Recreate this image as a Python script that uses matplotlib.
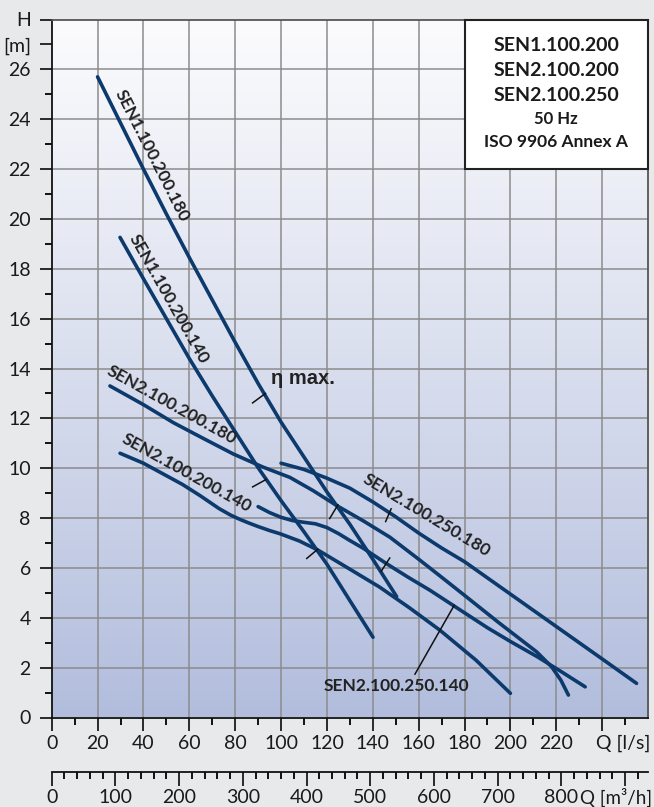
import numpy as np
import matplotlib
matplotlib.use('Agg')
import matplotlib.pyplot as plt
from matplotlib.ticker import FixedLocator
from matplotlib.patches import Rectangle

# ---------------- data ----------------
sen1_180_q = [20, 30, 40, 50, 60, 70, 80, 90, 100, 110, 120, 130, 140, 150.4]
sen1_180_h = [25.7, 23.85, 22.0, 20.2, 18.45, 16.75, 15.05, 13.4, 11.85, 10.45, 9.05, 7.75, 6.35, 4.85]

sen1_140_q = [29.8, 40, 50, 60, 70, 80, 90, 100, 110, 120, 130, 140.1]
sen1_140_h = [19.26, 17.6, 16.0, 14.4, 12.9, 11.46, 10.02, 8.7, 7.45, 6.15, 4.69, 3.22]

sen2_200_180_q = [25.4, 40, 53, 66, 79.2, 92, 103.9, 114, 124.3, 136, 147.5, 160, 169, 180, 195, 211.5, 218, 222, 225.3]
sen2_200_180_h = [13.3, 12.55, 11.83, 11.2, 10.57, 10.05, 9.63, 9.1, 8.5, 7.88, 7.23, 6.35, 5.7, 4.9, 3.8, 2.63, 2.03, 1.5, 0.9]

sen2_200_140_q = [29.8, 40, 50, 57, 64.7, 73, 78, 82, 86, 90, 95, 99.6, 108, 116, 130, 143, 156, 169.3, 185, 200]
sen2_200_140_h = [10.6, 10.2, 9.7, 9.35, 8.9, 8.38, 8.12, 7.95, 7.8, 7.66, 7.5, 7.37, 7.08, 6.72, 5.95, 5.23, 4.4, 3.5, 2.3, 0.97]

sen2_250_180_q = [100, 110, 120, 130, 140, 150, 160, 170, 180, 200, 220, 240, 255]
sen2_250_180_h = [10.2, 9.95, 9.6, 9.2, 8.65, 8.05, 7.4, 6.8, 6.25, 4.95, 3.65, 2.35, 1.37]

sen2_250_140_q = [90, 95, 100, 105, 110, 115, 120, 125, 130, 136, 146, 155, 165, 175, 190, 200, 211.5, 222, 232.6]
sen2_250_140_h = [8.46, 8.22, 8.03, 7.9, 7.83, 7.77, 7.62, 7.38, 7.1, 6.78, 6.17, 5.65, 5.1, 4.5, 3.6, 3.05, 2.45, 1.85, 1.23]

# eta-max marks (short strokes across curves): (q1, h1, q2, h2)
eta_marks = [(87.6, 12.62, 93.2, 13.0),
             (87.6, 9.25, 93.5, 9.55),
             (111.2, 6.38, 116.0, 6.75),
             (121.2, 7.98, 124.8, 8.53),
             (145.6, 7.86, 148.0, 8.37),
             (143.7, 5.87, 147.4, 6.40)]

x_ticks = list(range(0, 241, 20))
x_ticklabels = [str(v) for v in range(0, 221, 20)] + ['']
y_ticks = list(range(0, 27, 2)) + [27, 28]
y_ticklabels = [str(v) for v in range(0, 27, 2)] + ['[m]', 'H']
m3h_ticks = list(range(0, 901, 100))
m3h_ticklabels = [str(v) for v in range(0, 801, 100)] + ['']

box_lines = ['SEN1.100.200', 'SEN2.100.200', 'SEN2.100.250', '50 Hz', 'ISO 9906 Annex A']

# ---------------- figure ----------------
W, H = 654, 807
plt.rcParams['font.family'] = ['Lato', 'DejaVu Sans']
fig = plt.figure(figsize=(W / 100, H / 100), dpi=100)
fig.patch.set_facecolor('#e8e9ea')

px0, px1 = 51.7, 648.0
py0, py1 = 717.5, 19.5
ax = fig.add_axes([px0 / W, 1 - py0 / H, (px1 - px0) / W, (py0 - py1) / H])

# gradient background
top = np.array([251, 251, 253]) / 255
bot = np.array([178, 189, 221]) / 255
t = np.linspace(0, 1, 256)[:, None] ** 1.1
grad = top * (1 - t) + bot * t
ax.imshow(grad[:, None, :], extent=[0, 260, 0, 28], aspect='auto', origin='upper', zorder=0)
ax.set_xlim(0, 260)
ax.set_ylim(0, 28)

# grid
for xv in range(20, 260, 20):
    ax.axvline(xv, color='#8c8c8c', lw=1.1, zorder=1)
for yv in range(2, 28, 2):
    ax.axhline(yv, color='#8c8c8c', lw=1.1, zorder=1)

# ticks
ax.set_xticks(x_ticks)
ax.set_xticklabels(x_ticklabels)
ax.xaxis.set_minor_locator(FixedLocator(list(range(10, 260, 20))))
ax.set_yticks(y_ticks)
ax.set_yticklabels(y_ticklabels)
ax.yaxis.set_minor_locator(FixedLocator(list(range(1, 26, 2))))
ax.tick_params(which='major', length=9, width=1.3, direction='out', labelsize=14, colors='#1a1a1a')
ax.tick_params(which='minor', length=5, width=1.3, direction='out')
ax.tick_params(axis='x', which='major', pad=3.5)
ax.tick_params(axis='y', which='major', pad=6)

for s in ['left', 'bottom']:
    ax.spines[s].set_color('#111111')
    ax.spines[s].set_linewidth(1.3)
for s in ['top', 'right']:
    ax.spines[s].set_color('#555555')
    ax.spines[s].set_linewidth(1.3)

# curves
col = '#0c3a6c'
for q, h in [(sen1_180_q, sen1_180_h), (sen1_140_q, sen1_140_h),
             (sen2_200_180_q, sen2_200_180_h), (sen2_200_140_q, sen2_200_140_h),
             (sen2_250_180_q, sen2_250_180_h), (sen2_250_140_q, sen2_250_140_h)]:
    ax.plot(q, h, color=col, lw=2.6, solid_capstyle='round', solid_joinstyle='round', zorder=4)

for q1, h1, q2, h2 in eta_marks:
    ax.plot([q1, q2], [h1, h2], color='#111111', lw=1.1, zorder=5)

# leader line
ax.plot([158.4, 175.5], [1.74, 4.5], color='#111111', lw=1.1, zorder=5)

# curve labels
lab_kw = dict(fontsize=12.5, fontweight='bold', color='#222222', ha='center', va='center',
              rotation_mode='anchor', zorder=6)
ax.text(43.6, 22.55, 'SEN1.100.200.180', rotation=-63.1, **lab_kw)
ax.text(51.0, 16.8, 'SEN1.100.200.140', rotation=-60.5, **lab_kw)
ax.text(52.3, 12.55, 'SEN2.100.200.180', rotation=-29, **lab_kw)
ax.text(59.0, 9.8, 'SEN2.100.200.140', rotation=-29, **lab_kw)
ax.text(163.5, 8.1, 'SEN2.100.250.180', rotation=-31, **lab_kw)
ax.text(150.4, 1.27, 'SEN2.100.250.140', rotation=0, **lab_kw)

ax.text(109.6, 13.6, 'η max.', fontsize=14.5, fontweight='bold', family=['Liberation Sans', 'DejaVu Sans'],
        color='#222222', ha='center', va='center', zorder=6)

# title box
ax.add_patch(Rectangle((180, 22), 80, 6, facecolor='white', edgecolor='#222222', lw=1.5, zorder=7, clip_on=False))
box_y = [26.97, 25.97, 24.97, 24.0, 23.1]
box_fs = [14, 14, 14, 12, 12.5]
for txt, yy, fs in zip(box_lines, box_y, box_fs):
    ax.text(220, yy, txt, fontsize=fs, fontweight='bold', color='#1a1a1a', ha='center', va='center', zorder=8)

# Q [l/s] label
fig.text(650 / W, 1 - 743.3 / H, 'Q [l/s]', fontsize=14, color='#1a1a1a', ha='right', va='center')

# secondary m3/h axis
ax2 = fig.add_axes([px0 / W, 1 - 771.7 / H, (px1 - px0) / W, 0.0001])
ax2.set_xlim(0, 260 * 3.6)
ax2.set_ylim(0, 1)
ax2.patch.set_alpha(0)
for s in ['left', 'right', 'top']:
    ax2.spines[s].set_visible(False)
ax2.spines['bottom'].set_color('#111111')
ax2.spines['bottom'].set_linewidth(1.3)
ax2.set_yticks([])
ax2.set_xticks(m3h_ticks)
ax2.set_xticklabels(m3h_ticklabels)
ax2.xaxis.set_minor_locator(FixedLocator(list(range(20, 937, 20))))
ax2.tick_params(which='major', length=10, width=1.3, direction='out', labelsize=14, pad=2.5, colors='#1a1a1a')
ax2.tick_params(which='minor', length=5, width=1.3, direction='out')
fig.text(652 / W, 1 - 797.5 / H, 'Q [m³/h]', fontsize=13.5, color='#1a1a1a', ha='right', va='center')

fig.savefig('out.png', dpi=100, facecolor=fig.get_facecolor())
